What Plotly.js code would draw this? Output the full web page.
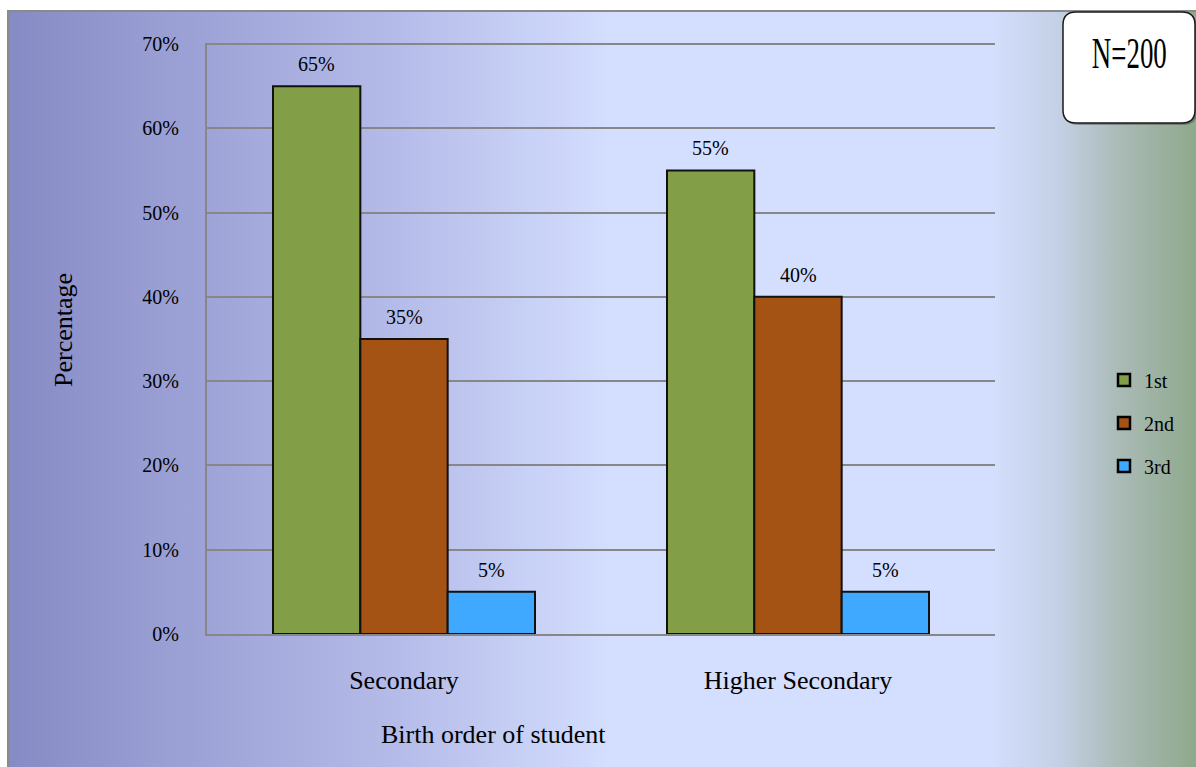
<!DOCTYPE html>
<html>
<head>
<meta charset="utf-8">
<script src="https://cdn.plot.ly/plotly-3.0.1.min.js"></script>
<style>
  html, body { margin: 0; padding: 0; background: #ffffff; width: 1196px; height: 767px; overflow: hidden; }
  #bg {
    position: absolute; left: 7px; top: 10px; width: 1189px; height: 757px; box-sizing: border-box;
    border-left: 2px solid #8a8a8a; border-top: 2px solid #8a8a8a;
    background: linear-gradient(to right, #878bc5 0%, #b5bce9 33%, #d4defe 50.7%, #d4defe 82.7%,
                                #c3d0e4 88.6%, #aabab6 93.6%, #8ea98c 100%);
  }
  #chart { position: absolute; left: 0; top: 0; width: 1196px; height: 767px; }
</style>
</head>
<body>
<div id="bg"></div>
<div id="chart"></div>
<script>
// Birth order of students by school level (percent)
const categories = ['Secondary', 'Higher Secondary'];
const seriesNames = ['1st', '2nd', '3rd'];
const firstBorn = [65, 55];
const secondBorn = [35, 40];
const thirdBorn = [5, 5];
const yTicks = [0, 10, 20, 30, 40, 50, 60, 70];
const yTickLabels = yTicks.map(v => v + '%');
const sampleNote = 'N=200';
const xTitle = 'Birth order of student';
const yTitle = 'Percentage';

const seriesValues = [firstBorn, secondBorn, thirdBorn];
const seriesColors = ['#829e47', '#a55314', '#3fa9ff'];

const FONT = '"Liberation Serif", "Times New Roman", serif';
const W = 1196, H = 767;
const M = { l: 207, r: 201, t: 43, b: 133 };
const pw = W - M.l - M.r, ph = H - M.t - M.b;
const bargap = 0.335;
const gridColor = '#878787';
// a hair of headroom so the 70% gridline is still drawn at the top edge
const yMax = 70.12;

// pixel -> paper helpers for the decorations placed outside the plot area
const px2x = p => (p - M.l) / pw;
const py2y = p => (H - M.b - p) / ph;

const traces = seriesValues.map((vals, i) => ({
  type: 'bar',
  name: seriesNames[i],
  x: categories,
  y: vals,
  legendgroup: seriesNames[i],
  marker: { color: seriesColors[i], line: { color: '#111111', width: 2 } },
  hoverinfo: 'skip'
}));

// value labels above each bar
const barPx = pw / categories.length * (1 - bargap) / seriesValues.length;
const annotations = [];
seriesValues.forEach((vals, i) => {
  vals.forEach((v, j) => {
    annotations.push({
      x: categories[j], y: v, xref: 'x', yref: 'y',
      text: v + '%', showarrow: false,
      xshift: (i - (seriesValues.length - 1) / 2) * barPx,
      yshift: 22, yanchor: 'middle',
      font: { family: FONT, size: 20, color: '#000000' }
    });
  });
});

// axis titles
annotations.push({
  x: px2x(493), y: py2y(734), xref: 'paper', yref: 'paper',
  text: xTitle, showarrow: false, xanchor: 'center', yanchor: 'middle',
  font: { family: FONT, size: 26, color: '#000000' }
});
annotations.push({
  x: px2x(63), y: py2y(330), xref: 'paper', yref: 'paper',
  text: yTitle, showarrow: false, textangle: -90, xanchor: 'center', yanchor: 'middle',
  font: { family: FONT, size: 26, color: '#000000' }
});

// sample size note
annotations.push({
  x: px2x(1129.5), y: py2y(54), xref: 'paper', yref: 'paper',
  text: sampleNote, showarrow: false, xanchor: 'center', yanchor: 'middle',
  font: { family: FONT, size: 44, color: '#000000' }
});

// rounded box behind the sample size note
function roundedPath(L, T, R, B, r, dx, dy) {
  const X = p => px2x(p + dx).toFixed(5);
  const Y = p => py2y(p + dy).toFixed(5);
  return `M${X(L + r)},${Y(T)} L${X(R - r)},${Y(T)} Q${X(R)},${Y(T)} ${X(R)},${Y(T + r)} ` +
         `L${X(R)},${Y(B - r)} Q${X(R)},${Y(B)} ${X(R - r)},${Y(B)} ` +
         `L${X(L + r)},${Y(B)} Q${X(L)},${Y(B)} ${X(L)},${Y(B - r)} ` +
         `L${X(L)},${Y(T + r)} Q${X(L)},${Y(T)} ${X(L + r)},${Y(T)} Z`;
}
const shapes = [
  { type: 'path', xref: 'paper', yref: 'paper', layer: 'above',
    path: roundedPath(1063, 12, 1195, 123, 13, 2, 2),
    fillcolor: 'rgba(40,40,40,0.35)', line: { width: 0 } },
  { type: 'path', xref: 'paper', yref: 'paper', layer: 'above',
    path: roundedPath(1063, 12, 1195, 123, 13, 0, 0),
    fillcolor: '#ffffff', line: { color: '#1a1a1a', width: 1.5 } }
];

const layout = {
  width: W, height: H,
  margin: M,
  paper_bgcolor: 'rgba(0,0,0,0)',
  plot_bgcolor: 'rgba(0,0,0,0)',
  barmode: 'group',
  bargap: bargap,
  bargroupgap: 0,
  font: { family: FONT, color: '#000000' },
  showlegend: true,
  legend: {
    x: px2x(1104), xanchor: 'left',
    y: py2y(423), yanchor: 'middle',
    bgcolor: 'rgba(0,0,0,0)', borderwidth: 0,
    font: { family: FONT, size: 20, color: '#000000' },
    tracegroupgap: 14, traceorder: 'grouped'
  },
  xaxis: {
    type: 'category',
    showline: true, linecolor: gridColor, linewidth: 2,
    showgrid: false, zeroline: false, ticks: '',
    tickfont: { family: FONT, size: 26, color: '#000000' },
    ticklabelstandoff: 22,
    fixedrange: true
  },
  yaxis: {
    range: [0, yMax],
    tickvals: yTicks, ticktext: yTickLabels,
    showline: true, linecolor: gridColor, linewidth: 2,
    showgrid: true, gridcolor: gridColor, gridwidth: 2,
    zeroline: false, ticks: '',
    tickfont: { family: FONT, size: 20, color: '#000000' },
    ticklabelstandoff: 22,
    fixedrange: true
  },
  annotations: annotations,
  shapes: shapes
};

Plotly.newPlot('chart', traces, layout, { displayModeBar: false, staticPlot: true }).then(() => {
  // condensed look for the sample size note
  document.querySelectorAll('#chart .annotation-text').forEach(el => {
    if (el.textContent === sampleNote) {
      el.setAttribute('textLength', '75');
      el.setAttribute('lengthAdjust', 'spacingAndGlyphs');
    }
  });
  // heavier outline on the legend swatches
  document.querySelectorAll('#chart .legend .legendpoints path').forEach(p => {
    p.style.strokeWidth = '2.5px';
    p.style.stroke = '#000000';
  });
});
</script>
</body>
</html>
